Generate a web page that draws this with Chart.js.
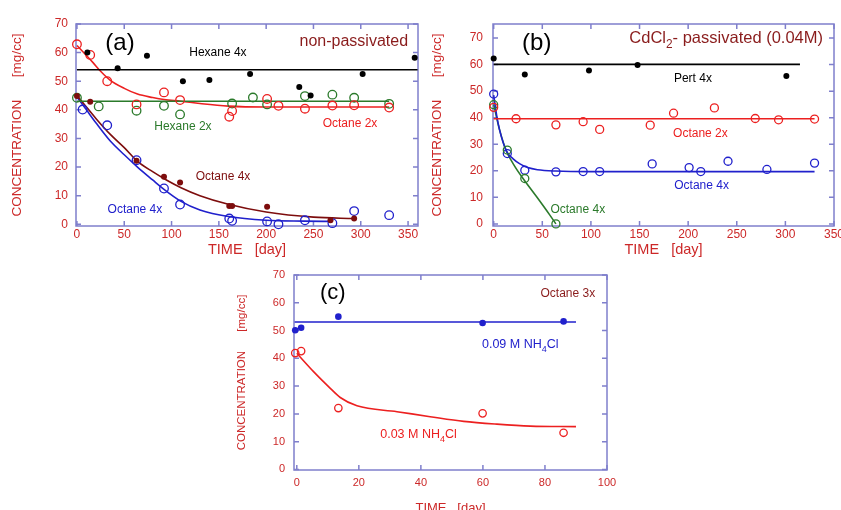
<!DOCTYPE html>
<html>
<head>
<meta charset="utf-8">
<script src="https://cdn.jsdelivr.net/npm/chart.js@4"></script>
<style>
  html, body { margin: 0; padding: 0; background: #fff; overflow: hidden; }
  body { width: 841px; height: 510px; position: relative; }
  canvas { position: absolute; }
</style>
</head>
<body>
<canvas id="chartA" width="430" height="260" style="left:0;top:0"></canvas>
<canvas id="chartB" width="421" height="260" style="left:420px;top:0"></canvas>
<canvas id="chartC" width="400" height="260" style="left:230px;top:260px"></canvas>
<script>
// ---- panel (a): non-passivated ----
const hexane4xDaysA = [11, 43, 74, 112, 140, 183, 235, 247, 302, 357];
const hexane4xA = [60, 54.5, 58.9, 50, 50.4, 52.5, 48, 45, 52.5, 58.2];
const octane2xDaysA = [0, 14, 32, 63, 92, 109, 161, 164, 201, 213, 241, 270, 293, 330];
const octane2xA = [62.9, 59.2, 50, 41.9, 46.1, 43.4, 37.6, 39.6, 43.8, 41.4, 40.4, 41.5, 41.6, 40.8];
const hexane2xDaysA = [0, 23, 63, 92, 109, 164, 186, 201, 241, 270, 293, 330];
const hexane2xA = [44.2, 41.2, 39.7, 41.4, 38.4, 42.2, 44.3, 41.9, 44.8, 45.3, 44.2, 42.1];
const octane4xDarkDaysA = [0, 14, 63, 92, 109, 161, 164, 201, 268, 293];
const octane4xDarkA = [44.8, 42.8, 22.2, 16.6, 14.6, 6.4, 6.4, 6.1, 1.4, 2.0];
const octane4xBlueDaysA = [6, 32, 63, 92, 109, 161, 164, 201, 213, 241, 270, 293, 330];
const octane4xBlueA = [40.1, 34.6, 22.4, 12.5, 6.9, 2.0, 1.2, 1.0, 0, 1.4, 0.4, 4.6, 3.2];

// fitted curves
const hexane4xFitDaysA = [0, 360];
const hexane4xFitA = [54, 54];
const hexane2xFitDaysA = [0, 330];
const hexane2xFitA = [43, 43];
const octane2xFitDaysA = [0, 10, 17, 25, 35, 50, 64, 80, 92, 110, 130, 160, 200, 250, 330];
const octane2xFitA = [62.5, 59, 56.5, 53.5, 50.4, 47.5, 45.5, 44.3, 43.6, 43, 42.2, 41.3, 41, 41, 41];
const octane4xDarkFitDaysA = [0, 10, 20, 35, 50, 64, 80, 95, 110, 130, 160, 200, 250, 293];
const octane4xDarkFitA = [45, 41, 37, 31.5, 26.8, 22, 18.4, 15.4, 12.8, 10, 7, 4.3, 2.5, 2.0];
const octane4xBlueFitDaysA = [0, 10, 20, 35, 50, 64, 80, 92, 110, 130, 160, 200, 240, 270];
const octane4xBlueFitA = [44.5, 40, 35.5, 29.2, 24.3, 20, 15.5, 12.2, 8, 5, 2.7, 1.4, 1.1, 1.0];

// ---- panel (b): CdCl2 passivated ----
const pert4xDaysB = [0, 32, 98, 148, 301];
const pert4xB = [62.3, 56.3, 57.8, 59.9, 55.7];
const octane2xDaysB = [0, 23, 64, 92, 109, 161, 185, 227, 269, 293, 330];
const octane2xB = [43.9, 39.6, 37.3, 38.5, 35.6, 37.2, 41.7, 43.7, 39.7, 39.2, 39.5];
const octane4xBlueDaysB = [0, 14, 32, 64, 92, 109, 163, 201, 213, 241, 281, 330];
const octane4xBlueB = [48.9, 26.5, 20.2, 19.6, 19.7, 19.7, 22.6, 21.2, 19.7, 23.6, 20.5, 22.9];
const octane4xGreenDaysB = [0, 14, 32, 64];
const octane4xGreenB = [44.9, 27.8, 17.1, 0];

const pert4xFitDaysB = [0, 315];
const pert4xFitB = [60.1, 60.1];
const octane2xFitDaysB = [0, 330];
const octane2xFitB = [39.6, 39.6];
const octane4xBlueFitDaysB = [0, 3, 6, 13, 20, 27, 35, 45, 64, 100, 330];
const octane4xBlueFitB = [48.5, 41, 35.5, 27.5, 24.5, 22.6, 21.2, 20.4, 19.9, 19.7, 19.7];
const octane4xGreenFitDaysB = [0, 6, 13, 22, 30, 44, 57.6, 64];
const octane4xGreenFitB = [45, 35.5, 27.5, 21.5, 17.2, 10.3, 3.4, 0];

// ---- panel (c): NH4Cl, octane 3x ----
const nh4cl09Days = [-0.5, 1.4, 13.4, 59.9, 86];
const nh4cl09 = [50.1, 51.0, 55.0, 52.7, 53.3];
const nh4cl03Days = [-0.5, 1.4, 13.4, 59.9, 86];
const nh4cl03 = [41.9, 42.6, 22.1, 20.2, 13.2];
const nh4cl09FitDays = [-0.7, 90];
const nh4cl09Fit = [53.1, 53.1];
const nh4cl03FitDays = [0, 5.4, 10.8, 14, 19.4, 32.3, 43, 53.8, 64.5, 75.3, 90];
const nh4cl03Fit = [41.8, 35.2, 29.2, 25.9, 22.9, 20.8, 19, 17.3, 16.3, 15.6, 15.4];

// tick labels
const xTicksAB = [0, 50, 100, 150, 200, 250, 300, 350];
const xTicksC = [0, 20, 40, 60, 80, 100];
const yTicks = [0, 10, 20, 30, 40, 50, 60, 70];

const FONT = "Liberation Sans, Arial, sans-serif";
const RED = "#ec2020";
const DARKRED = "#7d0d0d";
const GREEN = "#2b7a2b";
const BLUE = "#2020cc";
const BLACK = "#000000";
const FRAME = "#7f7fcc";
const TICK = "#cc2828";
const NOTE_RED = "#8a1c1c";

const pts = (xs, ys) => xs.map((x, i) => ({ x, y: ys[i] }));

const openDots = (xs, ys, color, r = 4.3) => ({
  data: pts(xs, ys), borderColor: color, backgroundColor: "rgba(0,0,0,0)",
  pointRadius: r, pointBorderWidth: 1.3, clip: false
});
const fullDots = (xs, ys, color, r = 3) => ({
  data: pts(xs, ys), borderColor: color, backgroundColor: color,
  pointRadius: r, pointBorderWidth: 0, clip: false
});
const fitLine = (xs, ys, color) => ({
  data: pts(xs, ys), showLine: true, borderColor: color, borderWidth: 1.6,
  pointRadius: 0, cubicInterpolationMode: "monotone", fill: false
});

// frame with inward ticks on all four sides
const frameTicks = {
  id: "frameTicks",
  beforeDatasetsDraw(chart) {
    const { ctx, chartArea: a, scales: { x, y } } = chart;
    ctx.save();
    ctx.strokeStyle = FRAME;
    ctx.lineWidth = 1.5;
    ctx.strokeRect(a.left, a.top, a.right - a.left, a.bottom - a.top);
    ctx.beginPath();
    x.ticks.forEach(t => {
      const p = x.getPixelForValue(t.value);
      ctx.moveTo(p, a.bottom); ctx.lineTo(p, a.bottom - 5);
      ctx.moveTo(p, a.top); ctx.lineTo(p, a.top + 5);
    });
    y.ticks.forEach(t => {
      const p = y.getPixelForValue(t.value);
      ctx.moveTo(a.left, p); ctx.lineTo(a.left + 5, p);
      ctx.moveTo(a.right, p); ctx.lineTo(a.right - 5, p);
    });
    ctx.stroke();
    ctx.restore();
  }
};

// text labels placed in data coordinates, parts may be subscripts
const notes = {
  id: "notes",
  afterDatasetsDraw(chart, args, opts) {
    const { ctx, scales: { x, y } } = chart;
    ctx.save();
    ctx.textBaseline = "middle";
    ctx.textAlign = "left";
    (opts.items || []).forEach(n => {
      const px = x.getPixelForValue(n.x);
      const py = y.getPixelForValue(n.y);
      const parts = Array.isArray(n.text) ? n.text : [[n.text, false]];
      const subSize = n.size * 0.72;
      const widths = parts.map(([s, sub]) => {
        ctx.font = `${sub ? subSize : n.size}px ${FONT}`;
        return ctx.measureText(s).width;
      });
      const total = widths.reduce((a, b) => a + b, 0);
      let cx = n.align === "right" ? px - total : n.align === "left" ? px : px - total / 2;
      ctx.fillStyle = n.color;
      parts.forEach(([s, sub], i) => {
        ctx.font = `${sub ? subSize : n.size}px ${FONT}`;
        ctx.fillText(s, cx, sub ? py + n.size * 0.38 : py);
        cx += widths[i];
      });
    });
    ctx.restore();
  }
};

function axes(o) {
  return {
    x: {
      type: "linear", min: o.xMin, max: o.xMax,
      afterBuildTicks: s => { s.ticks = o.xTicks.map(v => ({ value: v })); },
      afterFit: s => { s.height = o.xH; s.paddingLeft = 0; s.paddingRight = 0; },
      grid: { display: false, drawTicks: false },
      border: { display: false },
      ticks: { color: TICK, font: { family: FONT, size: o.tickSize }, padding: o.xPad, autoSkip: false, maxRotation: 0 },
      title: { display: true, text: "TIME   [day]", color: TICK, font: { family: FONT, size: o.xTitleSize }, padding: { top: 0, bottom: o.xTitlePad } }
    },
    y: {
      type: "linear", min: o.yMin, max: o.yMax,
      afterBuildTicks: s => { s.ticks = yTicks.map(v => ({ value: v })); },
      afterFit: s => { s.width = o.yW; s.paddingTop = 0; s.paddingBottom = 0; },
      grid: { display: false, drawTicks: false },
      border: { display: false },
      ticks: { color: TICK, font: { family: FONT, size: o.tickSize }, padding: o.yPad, autoSkip: false },
      title: { display: true, text: "CONCENTRATION      [mg/cc]", color: TICK, font: { family: FONT, size: o.yTitleSize }, padding: { top: o.yTitlePad, bottom: 0 } }
    }
  };
}

function makeChart(id, datasets, scaleOpts, padding, items) {
  return new Chart(document.getElementById(id), {
    type: "scatter",
    data: { datasets },
    options: {
      responsive: false,
      animation: false,
      devicePixelRatio: 1,
      layout: { padding },
      scales: axes(scaleOpts),
      plugins: { legend: { display: false }, tooltip: { enabled: false }, notes: { items } }
    },
    plugins: [frameTicks, notes]
  });
}

makeChart("chartA", [
  fullDots(hexane4xDaysA, hexane4xA, BLACK),
  fullDots(octane4xDarkDaysA, octane4xDarkA, DARKRED),
  openDots(octane2xDaysA, octane2xA, RED),
  openDots(hexane2xDaysA, hexane2xA, GREEN),
  openDots(octane4xBlueDaysA, octane4xBlueA, BLUE),
  fitLine(hexane4xFitDaysA, hexane4xFitA, BLACK),
  fitLine(hexane2xFitDaysA, hexane2xFitA, GREEN),
  fitLine(octane2xFitDaysA, octane2xFitA, RED),
  fitLine(octane4xDarkFitDaysA, octane4xDarkFitA, DARKRED),
  fitLine(octane4xBlueFitDaysA, octane4xBlueFitA, BLUE)
], {
  xMin: -1, xMax: 360.5, yMin: -0.6, yMax: 70, xTicks: xTicksAB,
  xH: 34, yW: 76, tickSize: 12, xPad: 1, yPad: 8,
  xTitleSize: 14.5, xTitlePad: 1, yTitleSize: 13.5, yTitlePad: 9
}, { left: 0, top: 24, right: 12, bottom: 0 }, [
  { text: "(a)", x: 45.5, y: 63.4, size: 24, color: BLACK },
  { text: "non-passivated", x: 350, y: 63.7, size: 16, color: NOTE_RED, align: "right" },
  { text: "Hexane 4x", x: 149, y: 59.9, size: 12, color: BLACK },
  { text: "Hexane 2x", x: 112, y: 34, size: 12, color: GREEN },
  { text: "Octane 2x", x: 288.6, y: 35, size: 12, color: RED },
  { text: "Octane 4x", x: 154.4, y: 16.8, size: 12, color: DARKRED },
  { text: "Octane 4x", x: 61.3, y: 5.25, size: 12, color: BLUE }
]);

makeChart("chartB", [
  fullDots(pert4xDaysB, pert4xB, BLACK),
  openDots(octane2xDaysB, octane2xB, RED, 4),
  openDots(octane4xGreenDaysB, octane4xGreenB, GREEN, 4),
  openDots(octane4xBlueDaysB, octane4xBlueB, BLUE, 4),
  fitLine(pert4xFitDaysB, pert4xFitB, BLACK),
  fitLine(octane2xFitDaysB, octane2xFitB, RED),
  fitLine(octane4xBlueFitDaysB, octane4xBlueFitB, BLUE),
  fitLine(octane4xGreenFitDaysB, octane4xGreenFitB, GREEN)
], {
  xMin: -0.7, xMax: 350, yMin: -0.8, yMax: 75.3, xTicks: xTicksAB,
  xH: 34, yW: 73, tickSize: 12, xPad: 1, yPad: 10,
  xTitleSize: 14.5, xTitlePad: 1, yTitleSize: 13.5, yTitlePad: 9
}, { left: 0, top: 24, right: 7, bottom: 0 }, [
  { text: "(b)", x: 44.3, y: 68.1, size: 24, color: BLACK },
  { text: [["CdCl", false], ["2", true], ["- passivated (0.04M)", false]], x: 338.7, y: 70, size: 16.5, color: NOTE_RED, align: "right" },
  { text: "Pert 4x", x: 204.9, y: 54.6, size: 12, color: BLACK },
  { text: "Octane 2x", x: 212.6, y: 33.9, size: 12, color: RED },
  { text: "Octane 4x", x: 213.8, y: 14.3, size: 12, color: BLUE },
  { text: "Octane 4x", x: 86.5, y: 5.3, size: 12, color: GREEN }
]);

makeChart("chartC", [
  fullDots(nh4cl09Days, nh4cl09, BLUE, 3.3),
  openDots(nh4cl03Days, nh4cl03, RED, 3.7),
  fitLine(nh4cl09FitDays, nh4cl09Fit, BLUE),
  fitLine(nh4cl03FitDays, nh4cl03Fit, RED)
], {
  xMin: -0.9, xMax: 100, yMin: -0.2, yMax: 70, xTicks: xTicksC,
  xH: 50, yW: 64, tickSize: 11, xPad: 6, yPad: 9,
  xTitleSize: 13, xTitlePad: 4, yTitleSize: 11.5, yTitlePad: 5
}, { left: 0, top: 15, right: 23, bottom: 0 }, [
  { text: "(c)", x: 11.6, y: 63.4, size: 22, color: BLACK },
  { text: "Octane 3x", x: 96.2, y: 63.4, size: 12, color: NOTE_RED, align: "right" },
  { text: [["0.09 M NH", false], ["4", true], ["Cl", false]], x: 59.7, y: 44.8, size: 12.5, color: BLUE, align: "left" },
  { text: [["0.03 M NH", false], ["4", true], ["Cl", false]], x: 26.9, y: 12.6, size: 12.5, color: RED, align: "left" }
]);
</script>
</body>
</html>
